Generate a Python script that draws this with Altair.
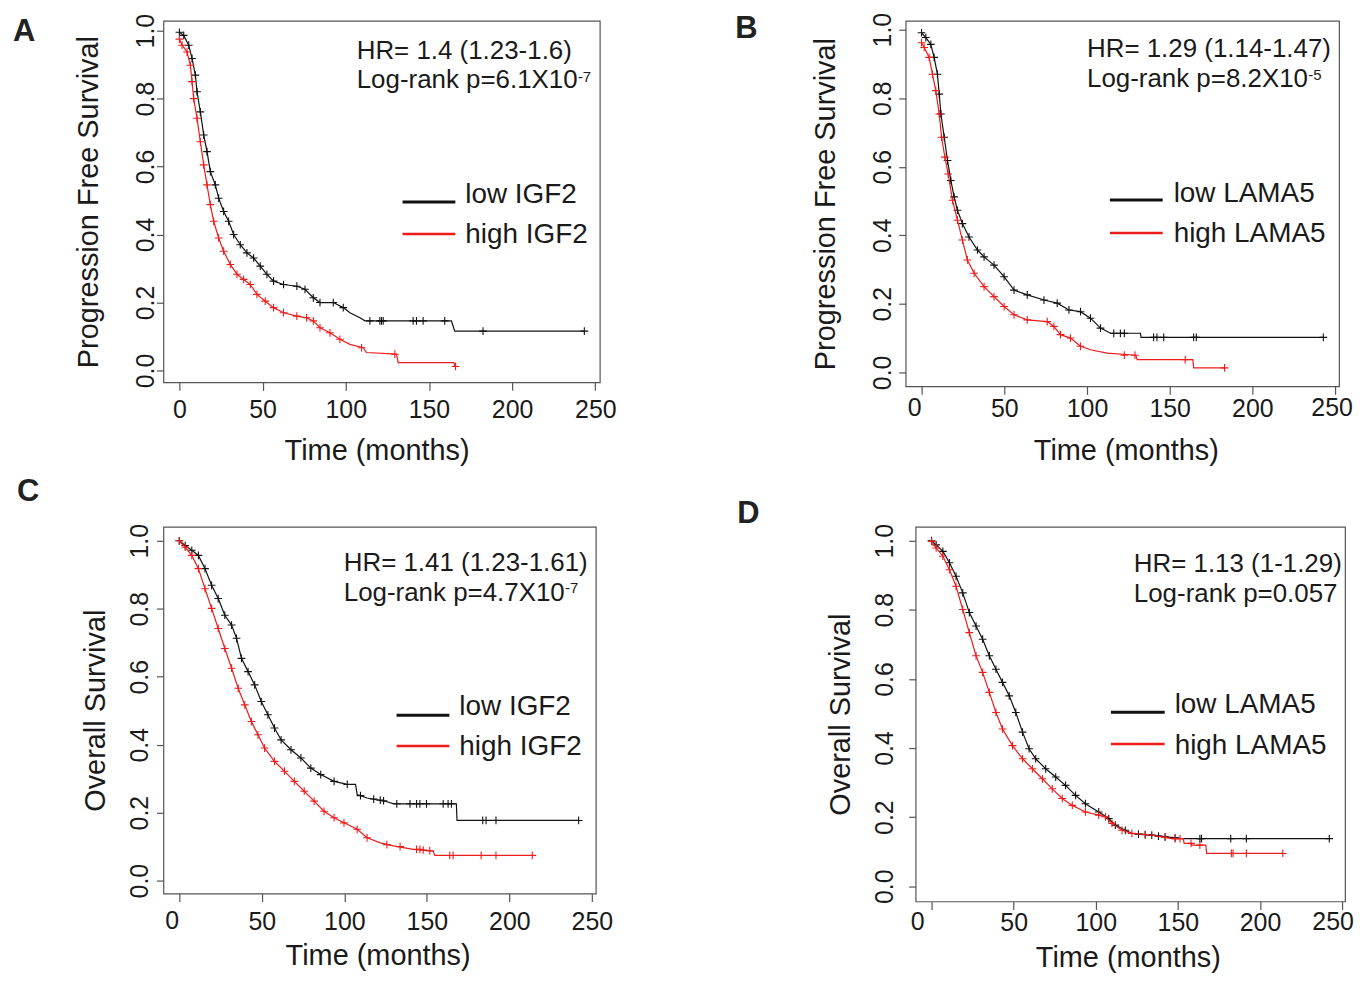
import altair as alt
import pandas as pd

FONT = "Liberation Sans"
INK = "#1a1a1a"
BOX = "#555555"
LOW_C = "#111111"
HIGH_C = "#ee1c1c"
PLUS = "M-1,0L1,0M0,-1L0,1"
X_TICKS = [0, 50, 100, 150, 200, 250]
Y_TICKS = [0.0, 0.2, 0.4, 0.6, 0.8, 1.0]

# ---------------- Panel A (PFS, IGF2) ----------------
A_low_t = [0, 2.6, 5.6, 7.6, 9.6, 10.6, 12.6, 14.6, 16.6, 18.6, 21.6, 23.6, 26.6, 29.6, 32.6, 36.6,
           40.6, 44.6, 48.6, 52.6, 56.6, 62.6, 70.6, 75.5, 80.5, 84.5, 92.5, 98.5, 102.5, 108.5,
           111.5, 163.5, 164.5, 165.5, 243.4]
A_low_s = [0.995, 0.986, 0.957, 0.918, 0.869, 0.82, 0.761, 0.693, 0.644, 0.585, 0.546, 0.507, 0.468,
           0.439, 0.40, 0.37, 0.346, 0.331, 0.307, 0.283, 0.263, 0.253, 0.248, 0.239, 0.214, 0.20,
           0.20, 0.185, 0.17, 0.155, 0.146, 0.146, 0.131, 0.116, 0.116]
A_low_ct = [114.5, 120.5, 121.5, 122.5, 140.5, 142.5, 146.5, 159.5, 182.5, 243.4]
A_low_cs = [0.146, 0.146, 0.146, 0.146, 0.146, 0.146, 0.146, 0.146, 0.116, 0.116]

A_high_t = [0, 1.6, 4.6, 6.6, 7.6, 8.6, 10.6, 12.6, 14.6, 16.6, 18.6, 20.6, 23.6, 26.6, 30.6, 34.6,
            38.6, 42.6, 46.6, 51.6, 56.6, 62.6, 70.6, 76.5, 80.5, 84.5, 90.5, 96.5, 102.5, 110.5,
            112.5, 130.5, 131.5, 165, 165.5, 166]
A_high_s = [0.975, 0.957, 0.937, 0.898, 0.85, 0.80, 0.742, 0.673, 0.605, 0.546, 0.488, 0.439, 0.39,
            0.351, 0.312, 0.283, 0.268, 0.253, 0.224, 0.204, 0.185, 0.17, 0.16, 0.155, 0.146, 0.126,
            0.111, 0.092, 0.077, 0.067, 0.053, 0.048, 0.023, 0.023, 0.012, 0.012]
A_high_ct = [109.5, 129.5, 166]
A_high_cs = [0.067, 0.048, 0.012]

# ---------------- Panel B (PFS, LAMA5) ----------------
B_low_t = [0, 2.6, 5.6, 7.6, 9.6, 10.7, 11.7, 13.7, 15.7, 17.7, 19.7, 21.7, 24.7, 28.7, 33.8, 37.8,
           43.8, 49.9, 55.9, 63.9, 74, 82, 89.1, 96.1, 102.1, 108.2, 114.2, 132.3, 132.7, 242.9]
B_low_s = [0.991, 0.977, 0.957, 0.919, 0.87, 0.812, 0.754, 0.686, 0.618, 0.56, 0.512, 0.473, 0.434,
           0.395, 0.357, 0.337, 0.313, 0.279, 0.24, 0.226, 0.211, 0.202, 0.182, 0.177, 0.158, 0.129,
           0.114, 0.114, 0.102, 0.102]
B_low_ct = [116.2, 120.2, 122.6, 140.3, 142.3, 146.4, 164.5, 166.1, 242.9]
B_low_cs = [0.114, 0.114, 0.114, 0.102, 0.102, 0.102, 0.102, 0.102, 0.102]

B_high_t = [0, 1.6, 4.6, 6.6, 8.6, 10.7, 12.1, 14.1, 16.1, 18.7, 21.7, 24.7, 27.7, 31.8, 37.8, 43.8,
            49.9, 55.9, 63.9, 76, 80, 84, 90, 96.1, 102.1, 112.2, 129.5, 130.3, 164, 164.5, 183.2]
B_high_s = [0.962, 0.948, 0.919, 0.87, 0.822, 0.754, 0.686, 0.628, 0.579, 0.502, 0.444, 0.386, 0.328,
            0.289, 0.25, 0.221, 0.192, 0.168, 0.153, 0.148, 0.134, 0.11, 0.1, 0.076, 0.066, 0.056,
            0.05, 0.037, 0.037, 0.013, 0.013]
B_high_ct = [122.6, 129.0, 159.4, 183.2]
B_high_cs = [0.05, 0.05, 0.037, 0.013]

# ---------------- Panel C (OS, IGF2) ----------------
C_low_t = [0, 3.6, 7.6, 11.6, 15.6, 19.6, 23.6, 27.6, 31.7, 34.7, 37.7, 41.7, 45.7, 49.7, 53.7, 57.7,
           61.7, 67.7, 73.7, 79.7, 85.7, 93.8, 101.8, 106.8, 107.8, 113.8, 125.8, 130, 167.9, 168.3, 242]
C_low_s = [1.0, 0.986, 0.972, 0.957, 0.918, 0.869, 0.83, 0.781, 0.752, 0.713, 0.654, 0.615, 0.576,
           0.527, 0.488, 0.449, 0.414, 0.385, 0.361, 0.331, 0.312, 0.292, 0.283, 0.283, 0.253, 0.243,
           0.232, 0.226, 0.226, 0.177, 0.177]
C_low_ct = [109.8, 117.8, 121.8, 123.8, 131.8, 139.8, 143.8, 145.8, 149.8, 159.9, 162.9, 164.9,
            183.9, 185.9, 191.9, 242]
C_low_cs = [0.25, 0.24, 0.237, 0.235, 0.226, 0.226, 0.226, 0.226, 0.226, 0.226, 0.226, 0.226,
            0.177, 0.177, 0.177, 0.177]

C_high_t = [0, 3.6, 7.6, 11.6, 15.6, 19.6, 23.6, 27.6, 31.7, 35.7, 39.7, 43.7, 47.7, 51.7, 57.7, 63.7,
            69.7, 75.7, 81.7, 87.7, 93.8, 99.8, 107.8, 113.8, 121.8, 129.8, 141.8, 153.8, 154.8, 215.9]
C_high_s = [1.0, 0.981, 0.957, 0.918, 0.859, 0.801, 0.742, 0.683, 0.625, 0.566, 0.517, 0.468, 0.429,
            0.39, 0.351, 0.322, 0.292, 0.263, 0.234, 0.204, 0.185, 0.17, 0.151, 0.126, 0.111, 0.102,
            0.092, 0.087, 0.074, 0.074]
C_high_ct = [125.8, 133.8, 143.8, 145.8, 147.8, 151.8, 163.9, 165.9, 182.9, 191.9, 213.9]
C_high_cs = [0.106, 0.1, 0.092, 0.092, 0.09, 0.088, 0.074, 0.074, 0.074, 0.074, 0.074]

# ---------------- Panel D (OS, LAMA5) ----------------
D_low_t = [0, 2.8, 6.9, 10.9, 14.9, 19, 23, 27.1, 31.1, 35.2, 39.2, 43.2, 47.3, 51.3, 55.4, 59.4,
           63.4, 69.5, 75.6, 81.6, 87.7, 93.7, 101.8, 107.9, 111.9, 118, 122, 134.1, 152.3, 242.2]
D_low_s = [1.0, 0.988, 0.969, 0.936, 0.897, 0.849, 0.792, 0.753, 0.715, 0.667, 0.628, 0.59, 0.551,
           0.503, 0.446, 0.398, 0.369, 0.34, 0.316, 0.292, 0.263, 0.239, 0.215, 0.196, 0.177, 0.162,
           0.153, 0.148, 0.138, 0.138]
D_low_ct = [126, 130.1, 134.1, 138.2, 142.2, 148.3, 163.4, 164.4, 182.2, 191.7, 242.2]
D_low_cs = [0.151, 0.149, 0.148, 0.145, 0.143, 0.14, 0.138, 0.138, 0.138, 0.138, 0.138]

D_high_t = [0, 2.8, 6.9, 10.9, 14.9, 19, 23, 27.1, 31.1, 35.2, 39.2, 43.2, 49.3, 55.4, 61.4, 67.5,
            73.5, 79.6, 85.7, 93.7, 101.8, 105.9, 109.9, 116, 122, 134.1, 146.3, 153.3, 153.8, 158,
            158.4, 167, 167.5, 214]
D_high_s = [0.998, 0.979, 0.955, 0.916, 0.868, 0.801, 0.734, 0.667, 0.619, 0.561, 0.503, 0.455, 0.407,
            0.369, 0.34, 0.311, 0.282, 0.254, 0.234, 0.215, 0.206, 0.201, 0.182, 0.162, 0.153, 0.148,
            0.138, 0.138, 0.124, 0.124, 0.119, 0.119, 0.095, 0.095]
D_high_ct = [130.1, 142.2, 148.3, 151.3, 158.0, 163.4, 182.6, 183.6, 191.7, 213.9]
D_high_cs = [0.15, 0.142, 0.138, 0.138, 0.124, 0.119, 0.095, 0.095, 0.095, 0.095]

# ---------------- Panel texts ----------------
LETTERS = ["A", "B", "C", "D"]
Y_TITLES = ["Progression Free Survival", "Progression Free Survival", "Overall Survival", "Overall Survival"]
GENES = ["IGF2", "LAMA5", "IGF2", "LAMA5"]
HR_TEXT = ["HR= 1.4 (1.23-1.6)", "HR= 1.29 (1.14-1.47)", "HR= 1.41 (1.23-1.61)", "HR= 1.13 (1-1.29)"]
LR_TEXT = ["Log-rank p=6.1X10", "Log-rank p=8.2X10", "Log-rank p=4.7X10", "Log-rank p=0.057"]
LR_SUP = ["-7", "-5", "-7", ""]

PANELS = [
    dict(low=(A_low_t, A_low_s, A_low_ct, A_low_cs, 100), high=(A_high_t, A_high_s, A_high_ct, A_high_cs, 100),
         w=438, h=363, xdom=[-9.6, 252.7], ydom=[-0.035, 1.029],
         letter=(-151, 20), hr=(194, 38), lr=(194, 68), sup=(416, 61),
         leg=dict(x1=240, x2=293, y1=182, t1=183, y2=214, t2=223, tx=303),
         ypad=3, ytx=-66, xpad=27, xty=77, xtx=214, moved={}),
    dict(low=(B_low_t, B_low_s, B_low_ct, B_low_cs, 110), high=(B_high_t, B_high_s, B_high_ct, B_high_cs, 100),
         w=435, h=367, xdom=[-9.6, 252.4], ydom=[-0.041, 1.026],
         letter=(-171, 17), hr=(182, 36), lr=(182, 67), sup=(404, 59),
         leg=dict(x1=205, x2=258, y1=180, t1=182, y2=213, t2=222, tx=269),
         ypad=8, ytx=-71, xpad=22, xty=73, xtx=221, moved={0: -7, 250: -3}),
    dict(low=(C_low_t, C_low_s, C_low_ct, C_low_cs, 105), high=(C_high_t, C_high_s, C_high_ct, C_high_cs, 120),
         w=434, h=368, xdom=[-9.6, 252.4], ydom=[-0.038, 1.041],
         letter=(-147, -26), hr=(181, 44), lr=(181, 74), sup=(403, 66),
         leg=dict(x1=234, x2=287, y1=189, t1=189, y2=220, t2=229, tx=297),
         ypad=9, ytx=-59, xpad=28, xty=71, xtx=215, moved={0: -7}),
    dict(low=(D_low_t, D_low_s, D_low_ct, D_low_cs, 120), high=(D_high_t, D_high_s, D_high_ct, D_high_cs, 125),
         w=431, h=376, xdom=[-9.7, 251.8], ydom=[-0.044, 1.04],
         letter=(-179, -4), hr=(219, 45), lr=(219, 75), sup=(0, 0),
         leg=dict(x1=196, x2=250, y1=186, t1=187, y2=218, t2=228, tx=260),
         ypad=16, ytx=-66, xpad=21, xty=65, xtx=213, moved={0: -14, 250: -9}),
]


def text_layer(txt, x, y, size, weight="normal", color=INK):
    return alt.Chart(pd.DataFrame({"txt": [txt]})).mark_text(
        font=FONT, fontSize=size, fontWeight=weight, color=color,
        align="left", baseline="alphabetic"
    ).encode(text="txt:N", x=alt.value(x), y=alt.value(y))


def seg_layer(x1, x2, y, color, w):
    return alt.Chart(pd.DataFrame({"k": [0]})).mark_rule(color=color, strokeWidth=w).encode(
        x=alt.value(x1), x2=alt.value(x2), y=alt.value(y))


def panel(i):
    p = PANELS[i]
    moved = p["moved"]
    if moved:
        hidden = "[" + ",".join(str(v) for v in moved) + "]"
        lab_expr = "indexof(" + hidden + ", datum.value) >= 0 ? '' : datum.label"
    else:
        lab_expr = "datum.label"
    xax = alt.Axis(values=X_TICKS, title="Time (months)", grid=False, domain=False,
                   tickSize=8, tickColor=BOX, tickWidth=1.2,
                   labelFont=FONT, labelFontSize=25, labelColor=INK, labelPadding=p["xpad"],
                   labelBaseline="alphabetic", labelFlush=False, labelOverlap=False,
                   labelExpr=lab_expr,
                   titleFont=FONT, titleFontSize=29, titleFontWeight="normal", titleColor=INK,
                   titleX=p["xtx"], titleY=p["xty"], titleBaseline="alphabetic", titleAlign="center")
    yax = alt.Axis(values=Y_TICKS, format=".1f", title=Y_TITLES[i], grid=False, domain=False,
                   tickSize=7, tickColor=BOX, tickWidth=1.2,
                   labelFont=FONT, labelFontSize=25, labelColor=INK, labelPadding=p["ypad"],
                   labelAngle=270, labelAlign="center", labelBaseline="alphabetic",
                   labelFlush=False, labelOverlap=False,
                   titleFont=FONT, titleFontSize=29, titleFontWeight="normal", titleColor=INK,
                   titleAngle=270, titleX=p["ytx"], titleY=p["h"] / 2,
                   titleBaseline="alphabetic", titleAlign="center")
    xs = alt.Scale(domain=p["xdom"], nice=False, zero=False)
    ys = alt.Scale(domain=p["ydom"], nice=False, zero=False)

    layers = []
    first = True
    for key, col in (("low", LOW_C), ("high", HIGH_C)):
        t, s, ct, cs, cut = p[key]
        df_line = pd.DataFrame({"t": t, "s": s})
        cen_t = [a for a in t if a < cut] + list(ct)
        cen_s = [b for a, b in zip(t, s) if a < cut] + list(cs)
        df_cen = pd.DataFrame({"t": cen_t, "s": cen_s})
        if first:
            xenc = alt.X("t:Q", scale=xs, axis=xax)
            yenc = alt.Y("s:Q", scale=ys, axis=yax)
            first = False
        else:
            xenc = alt.X("t:Q", scale=xs)
            yenc = alt.Y("s:Q", scale=ys)
        line = alt.Chart(df_line).mark_line(color=col, strokeWidth=1.2).encode(x=xenc, y=yenc)
        cen = alt.Chart(df_cen).mark_point(shape=PLUS, size=60, filled=False, color=col,
                                           strokeWidth=1.1, opacity=1).encode(
            x=alt.X("t:Q", scale=xs), y=alt.Y("s:Q", scale=ys))
        layers += [line, cen]

    # tick labels that sit off-centre from their tick in the reference
    for v, dx in moved.items():
        layers.append(
            alt.Chart(pd.DataFrame({"t": [v], "txt": [str(v)]})).mark_text(
                font=FONT, fontSize=25, color=INK, align="center", baseline="alphabetic", dx=dx
            ).encode(x=alt.X("t:Q", scale=xs), y=alt.value(p["h"] + 8 + p["xpad"]), text="txt:N")
        )

    lx, ly = p["letter"]
    layers.append(text_layer(LETTERS[i], lx, ly, 31, weight="bold", color="#222222"))
    layers.append(text_layer(HR_TEXT[i], p["hr"][0], p["hr"][1], 26))
    layers.append(text_layer(LR_TEXT[i], p["lr"][0], p["lr"][1], 26))
    if LR_SUP[i]:
        layers.append(text_layer(LR_SUP[i], p["sup"][0], p["sup"][1], 15))
    lg = p["leg"]
    layers.append(seg_layer(lg["x1"], lg["x2"], lg["y1"], LOW_C, 3))
    layers.append(seg_layer(lg["x1"], lg["x2"], lg["y2"], HIGH_C, 2.5))
    layers.append(text_layer("low " + GENES[i], lg["tx"], lg["t1"], 28))
    layers.append(text_layer("high " + GENES[i], lg["tx"], lg["t2"], 28))

    return alt.layer(*layers).properties(width=p["w"], height=p["h"])


row1 = alt.hconcat(panel(0), panel(1), spacing=118).resolve_scale(x="independent", y="independent")
row2 = alt.hconcat(panel(2), panel(3), spacing=123).resolve_scale(x="independent", y="independent")

chart = alt.vconcat(row1, row2, spacing=9).resolve_scale(
    x="independent", y="independent"
).properties(
    padding={"left": 4, "top": 1, "right": 0, "bottom": 0},
    background="white",
).configure_view(stroke=BOX, strokeWidth=1.2)

chart.save("out.html", embed_options={"renderer": "svg", "actions": False})
